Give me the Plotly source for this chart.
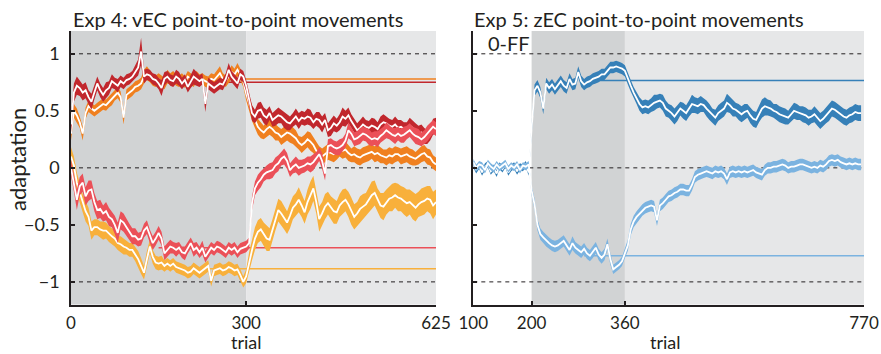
import numpy as np
import plotly.graph_objects as go

# ---------------- Exp 4 (vEC), trials 0..625 in steps of 5 ----------------
exp4_trials = list(range(0, 630, 5))

dr_mean = [0.38, 0.66, 0.72, 0.70, 0.66, 0.68, 0.62, 0.58, 0.66, 0.74,
           0.68, 0.64, 0.68, 0.70, 0.76, 0.74, 0.72, 0.76, 0.74, 0.77,
           0.78, 0.80, 0.84, 0.88, 1.02, 0.80, 0.82, 0.81, 0.78, 0.77,
           0.74, 0.70, 0.78, 0.80, 0.77, 0.76, 0.80, 0.78, 0.74, 0.77,
           0.71, 0.76, 0.80, 0.78, 0.76, 0.78, 0.56, 0.74, 0.72, 0.70,
           0.72, 0.74, 0.73, 0.78, 0.86, 0.80, 0.77, 0.74, 0.82, 0.80,
           0.72, 0.60, 0.48, 0.45, 0.50, 0.51, 0.46, 0.44, 0.48, 0.42,
           0.44, 0.46, 0.45, 0.42, 0.40, 0.39, 0.42, 0.45, 0.41, 0.44,
           0.43, 0.45, 0.44, 0.40, 0.43, 0.42, 0.38, 0.42, 0.33, 0.35,
           0.39, 0.37, 0.40, 0.45, 0.43, 0.46, 0.41, 0.37, 0.33, 0.35,
           0.38, 0.36, 0.35, 0.37, 0.36, 0.34, 0.38, 0.40, 0.39, 0.37,
           0.36, 0.38, 0.35, 0.36, 0.34, 0.33, 0.37, 0.35, 0.33, 0.30,
           0.31, 0.28, 0.27, 0.30, 0.36, 0.37]
dr_se = [0.07, 0.08, 0.08, 0.07, 0.07, 0.07, 0.06, 0.07, 0.06, 0.06,
         0.06, 0.06, 0.07, 0.06, 0.06, 0.05, 0.06, 0.05, 0.05, 0.05,
         0.05, 0.05, 0.06, 0.07, 0.12, 0.06, 0.05, 0.05, 0.05, 0.05,
         0.05, 0.07, 0.06, 0.05, 0.05, 0.05, 0.06, 0.06, 0.05, 0.05,
         0.05, 0.06, 0.07, 0.06, 0.05, 0.05, 0.07, 0.05, 0.05, 0.05,
         0.05, 0.05, 0.05, 0.05, 0.06, 0.05, 0.05, 0.05, 0.05, 0.05,
         0.05, 0.06, 0.07, 0.06, 0.07, 0.07, 0.07, 0.07, 0.06, 0.06,
         0.07, 0.07, 0.06, 0.07, 0.07, 0.06, 0.06, 0.07, 0.07, 0.06,
         0.06, 0.07, 0.07, 0.06, 0.06, 0.07, 0.07, 0.06, 0.06, 0.07,
         0.07, 0.06, 0.07, 0.08, 0.07, 0.07, 0.06, 0.06, 0.06, 0.07,
         0.07, 0.06, 0.06, 0.07, 0.07, 0.06, 0.07, 0.07, 0.06, 0.06,
         0.06, 0.07, 0.07, 0.06, 0.06, 0.07, 0.07, 0.06, 0.06, 0.07,
         0.07, 0.07, 0.06, 0.06, 0.07, 0.07]

or_mean = [0.30, 0.50, 0.46, 0.40, 0.30, 0.48, 0.54, 0.52, 0.50, 0.52,
           0.54, 0.56, 0.55, 0.58, 0.60, 0.64, 0.66, 0.62, 0.44, 0.64,
           0.66, 0.68, 0.71, 0.72, 0.74, 0.80, 0.83, 0.80, 0.77, 0.76,
           0.78, 0.76, 0.74, 0.80, 0.78, 0.80, 0.77, 0.76, 0.78, 0.75,
           0.80, 0.78, 0.76, 0.80, 0.77, 0.78, 0.76, 0.75, 0.78, 0.77,
           0.80, 0.83, 0.78, 0.76, 0.80, 0.84, 0.82, 0.86, 0.82, 0.76,
           0.65, 0.56, 0.48, 0.42, 0.36, 0.33, 0.31, 0.34, 0.36, 0.34,
           0.31, 0.30, 0.27, 0.29, 0.31, 0.30, 0.28, 0.26, 0.22, 0.20,
           0.22, 0.25, 0.23, 0.20, 0.15, 0.13, 0.10, 0.12, 0.14, 0.13,
           0.12, 0.14, 0.16, 0.15, 0.16, 0.13, 0.11, 0.12, 0.10, 0.09,
           0.11, 0.12, 0.13, 0.14, 0.12, 0.13, 0.11, 0.10, 0.09, 0.11,
           0.10, 0.12, 0.12, 0.10, 0.11, 0.12, 0.10, 0.09, 0.08, 0.10,
           0.12, 0.13, 0.10, 0.09, 0.05, 0.03]
or_se = [0.06, 0.06, 0.06, 0.05, 0.06, 0.05, 0.05, 0.05, 0.05, 0.05,
         0.05, 0.05, 0.05, 0.05, 0.05, 0.05, 0.05, 0.05, 0.06, 0.05,
         0.05, 0.05, 0.05, 0.05, 0.05, 0.06, 0.06, 0.05, 0.05, 0.05,
         0.05, 0.05, 0.05, 0.06, 0.05, 0.05, 0.05, 0.05, 0.05, 0.05,
         0.05, 0.05, 0.05, 0.05, 0.05, 0.05, 0.05, 0.05, 0.05, 0.05,
         0.05, 0.06, 0.05, 0.05, 0.05, 0.06, 0.05, 0.06, 0.05, 0.05,
         0.06, 0.06, 0.07, 0.07, 0.07, 0.07, 0.06, 0.07, 0.07, 0.07,
         0.07, 0.06, 0.07, 0.07, 0.07, 0.08, 0.07, 0.07, 0.06, 0.07,
         0.07, 0.07, 0.08, 0.07, 0.07, 0.06, 0.07, 0.07, 0.07, 0.07,
         0.07, 0.07, 0.06, 0.07, 0.07, 0.07, 0.06, 0.07, 0.07, 0.07,
         0.07, 0.07, 0.07, 0.06, 0.07, 0.07, 0.07, 0.06, 0.07, 0.07,
         0.07, 0.07, 0.06, 0.07, 0.07, 0.07, 0.07, 0.07, 0.06, 0.07,
         0.07, 0.07, 0.07, 0.07, 0.06, 0.06]

sa_mean = [0.00, -0.13, -0.28, -0.16, -0.13, -0.25, -0.20, -0.19, -0.30, -0.37,
           -0.36, -0.40, -0.38, -0.43, -0.45, -0.50, -0.57, -0.46, -0.48, -0.52,
           -0.56, -0.60, -0.60, -0.63, -0.62, -0.55, -0.52, -0.60, -0.66, -0.62,
           -0.57, -0.62, -0.75, -0.72, -0.69, -0.70, -0.72, -0.70, -0.74, -0.75,
           -0.70, -0.66, -0.72, -0.70, -0.74, -0.70, -0.78, -0.74, -0.70, -0.72,
           -0.69, -0.70, -0.72, -0.74, -0.70, -0.72, -0.70, -0.74, -0.71, -0.70,
           -0.69, -0.66, -0.31, -0.18, -0.13, -0.10, -0.06, -0.04, -0.03, -0.02,
           0.02, 0.04, 0.08, 0.10, 0.06, -0.02, 0.01, 0.03, 0.00, 0.01,
           0.02, 0.04, 0.03, 0.05, 0.08, 0.12, 0.06, -0.05, 0.19, 0.20,
           0.18, 0.17, 0.18, 0.20, 0.24, 0.33, 0.30, 0.25, 0.26, 0.28,
           0.30, 0.29, 0.27, 0.25, 0.26, 0.25, 0.28, 0.30, 0.33, 0.31,
           0.29, 0.28, 0.30, 0.28, 0.29, 0.31, 0.33, 0.30, 0.28, 0.27,
           0.25, 0.27, 0.30, 0.33, 0.36, 0.34]
sa_se = [0.07, 0.08, 0.09, 0.08, 0.08, 0.08, 0.09, 0.08, 0.08, 0.08,
         0.08, 0.07, 0.08, 0.08, 0.07, 0.08, 0.09, 0.08, 0.08, 0.07,
         0.07, 0.07, 0.07, 0.06, 0.06, 0.06, 0.06, 0.06, 0.06, 0.06,
         0.06, 0.06, 0.06, 0.06, 0.06, 0.05, 0.06, 0.05, 0.05, 0.06,
         0.05, 0.05, 0.06, 0.05, 0.05, 0.06, 0.05, 0.05, 0.05, 0.05,
         0.05, 0.05, 0.05, 0.05, 0.05, 0.05, 0.05, 0.05, 0.05, 0.05,
         0.05, 0.05, 0.06, 0.06, 0.07, 0.07, 0.06, 0.06, 0.07, 0.07,
         0.07, 0.07, 0.06, 0.07, 0.07, 0.06, 0.06, 0.07, 0.07, 0.06,
         0.06, 0.06, 0.07, 0.07, 0.06, 0.06, 0.07, 0.06, 0.06, 0.06,
         0.06, 0.06, 0.07, 0.06, 0.06, 0.07, 0.06, 0.06, 0.06, 0.07,
         0.06, 0.06, 0.07, 0.06, 0.06, 0.07, 0.06, 0.06, 0.07, 0.06,
         0.06, 0.07, 0.06, 0.06, 0.07, 0.06, 0.06, 0.06, 0.07, 0.07,
         0.06, 0.06, 0.07, 0.07, 0.06, 0.06]

ye_mean = [0.10, 0.02, -0.13, -0.22, -0.31, -0.38, -0.43, -0.55, -0.52, -0.52,
           -0.54, -0.55, -0.55, -0.58, -0.60, -0.62, -0.66, -0.67, -0.69, -0.70,
           -0.72, -0.72, -0.76, -0.80, -0.86, -0.92, -0.80, -0.69, -0.78, -0.83,
           -0.84, -0.83, -0.86, -0.84, -0.86, -0.84, -0.87, -0.88, -0.89, -0.90,
           -0.92, -0.91, -0.88, -0.90, -0.92, -0.90, -0.88, -0.86, -0.99, -0.90,
           -0.89, -0.88, -0.90, -0.89, -0.87, -0.88, -0.90, -0.89, -0.94, -1.00,
           -0.95, -0.82, -0.72, -0.62, -0.56, -0.54, -0.58, -0.62, -0.63, -0.55,
           -0.45, -0.37, -0.40, -0.44, -0.48, -0.42, -0.35, -0.32, -0.28, -0.33,
           -0.39, -0.30, -0.24, -0.18, -0.30, -0.45, -0.40, -0.34, -0.31, -0.35,
           -0.38, -0.39, -0.33, -0.30, -0.28, -0.32, -0.38, -0.43, -0.40, -0.36,
           -0.34, -0.32, -0.28, -0.24, -0.22, -0.28, -0.33, -0.34, -0.30, -0.27,
           -0.26, -0.24, -0.26, -0.27, -0.29, -0.31, -0.30, -0.33, -0.35, -0.32,
           -0.30, -0.29, -0.27, -0.28, -0.33, -0.30]
ye_se = [0.08, 0.08, 0.09, 0.08, 0.08, 0.09, 0.08, 0.08, 0.07, 0.07,
         0.07, 0.08, 0.07, 0.07, 0.07, 0.07, 0.06, 0.07, 0.07, 0.06,
         0.06, 0.06, 0.06, 0.07, 0.07, 0.06, 0.07, 0.06, 0.06, 0.06,
         0.06, 0.06, 0.05, 0.05, 0.05, 0.05, 0.05, 0.05, 0.05, 0.05,
         0.05, 0.05, 0.05, 0.05, 0.05, 0.05, 0.05, 0.05, 0.05, 0.05,
         0.05, 0.05, 0.05, 0.05, 0.05, 0.05, 0.05, 0.05, 0.05, 0.05,
         0.06, 0.08, 0.09, 0.10, 0.10, 0.10, 0.10, 0.11, 0.10, 0.10,
         0.10, 0.10, 0.11, 0.10, 0.10, 0.11, 0.10, 0.10, 0.11, 0.10,
         0.10, 0.11, 0.12, 0.11, 0.10, 0.11, 0.10, 0.11, 0.10, 0.10,
         0.11, 0.10, 0.10, 0.11, 0.10, 0.11, 0.12, 0.11, 0.10, 0.11,
         0.11, 0.10, 0.11, 0.12, 0.11, 0.10, 0.11, 0.12, 0.11, 0.11,
         0.12, 0.11, 0.12, 0.11, 0.12, 0.12, 0.11, 0.12, 0.12, 0.11,
         0.12, 0.12, 0.11, 0.12, 0.12, 0.11]

# steady-state reference levels of Exp 4 (value, first trial drawn)
exp4_ref = {"dr": (0.75, 150), "or": (0.78, 150), "sa": (-0.70, 150), "ye": (-0.885, 150)}

# ---------------- Exp 5 (zEC), trials 100..765 in steps of 5 ----------------
exp5_trials = list(range(100, 770, 5))

db_mean = [0.03, -0.02, 0.02, -0.04, 0.01, 0.03, -0.03, 0.00, -0.05, 0.02,
           -0.01, 0.03, -0.04, 0.00, 0.02, -0.03, 0.01, 0.00, 0.03, -0.04,
           0.35, 0.68, 0.72, 0.66, 0.52, 0.74, 0.70, 0.73, 0.69, 0.72,
           0.76, 0.72, 0.70, 0.78, 0.73, 0.74, 0.84, 0.76, 0.73, 0.75,
           0.76, 0.78, 0.79, 0.80, 0.82, 0.82, 0.85, 0.88, 0.88, 0.89,
           0.88, 0.87, 0.85, 0.78, 0.72, 0.66, 0.61, 0.56, 0.53, 0.54,
           0.53, 0.55, 0.57, 0.58, 0.59, 0.57, 0.52, 0.50, 0.48, 0.45,
           0.48, 0.52, 0.50, 0.48, 0.52, 0.56, 0.55, 0.54, 0.56, 0.55,
           0.52, 0.49, 0.46, 0.44, 0.48, 0.50, 0.52, 0.57, 0.55, 0.52,
           0.51, 0.49, 0.47, 0.49, 0.50, 0.46, 0.43, 0.42, 0.47, 0.52,
           0.54, 0.53, 0.52, 0.50, 0.49, 0.47, 0.46, 0.45, 0.44, 0.47,
           0.50, 0.49, 0.48, 0.47, 0.46, 0.44, 0.45, 0.47, 0.44, 0.41,
           0.43, 0.46, 0.48, 0.52, 0.51, 0.49, 0.47, 0.45, 0.44, 0.46,
           0.47, 0.49, 0.48, 0.48]
db_se = [0.03, 0.03, 0.03, 0.03, 0.03, 0.03, 0.03, 0.03, 0.03, 0.03,
         0.03, 0.03, 0.03, 0.03, 0.03, 0.03, 0.03, 0.03, 0.03, 0.03,
         0.05, 0.05, 0.05, 0.05, 0.05, 0.05, 0.05, 0.05, 0.05, 0.05,
         0.05, 0.05, 0.05, 0.05, 0.05, 0.05, 0.05, 0.05, 0.05, 0.05,
         0.05, 0.05, 0.05, 0.05, 0.05, 0.05, 0.05, 0.05, 0.05, 0.05,
         0.05, 0.05, 0.05, 0.05, 0.05, 0.05, 0.05, 0.06, 0.06, 0.06,
         0.06, 0.06, 0.07, 0.06, 0.06, 0.07, 0.07, 0.06, 0.07, 0.07,
         0.07, 0.06, 0.07, 0.07, 0.07, 0.08, 0.07, 0.07, 0.07, 0.06,
         0.07, 0.07, 0.06, 0.07, 0.07, 0.07, 0.07, 0.08, 0.07, 0.07,
         0.06, 0.07, 0.07, 0.07, 0.06, 0.07, 0.07, 0.07, 0.07, 0.08,
         0.08, 0.07, 0.07, 0.06, 0.07, 0.07, 0.07, 0.07, 0.06, 0.07,
         0.07, 0.07, 0.06, 0.07, 0.07, 0.07, 0.06, 0.07, 0.07, 0.07,
         0.07, 0.07, 0.07, 0.07, 0.07, 0.07, 0.07, 0.07, 0.07, 0.07,
         0.07, 0.07, 0.07, 0.07]

lb_mean = [0.05, 0.00, 0.03, 0.02, -0.02, 0.04, 0.01, -0.01, 0.03, 0.00,
           0.02, 0.04, -0.01, 0.02, 0.00, 0.03, -0.02, 0.02, 0.01, 0.03,
           -0.20, -0.32, -0.50, -0.58, -0.61, -0.64, -0.66, -0.68, -0.69, -0.68,
           -0.66, -0.64, -0.68, -0.72, -0.66, -0.70, -0.72, -0.74, -0.71, -0.75,
           -0.77, -0.74, -0.70, -0.76, -0.79, -0.76, -0.67, -0.80, -0.89, -0.87,
           -0.85, -0.82, -0.75, -0.68, -0.54, -0.47, -0.43, -0.40, -0.37, -0.35,
           -0.34, -0.33, -0.34, -0.46, -0.33, -0.31, -0.28, -0.25, -0.24, -0.22,
           -0.21, -0.19, -0.19, -0.20, -0.20, -0.15, -0.08, -0.06, -0.05, -0.04,
           -0.03, -0.04, -0.05, -0.03, -0.04, -0.03, -0.05, -0.10, -0.04, -0.03,
           -0.04, -0.03, -0.04, -0.03, -0.04, -0.03, -0.02, -0.04, -0.05, -0.06,
           -0.02, 0.00, 0.00, 0.01, 0.01, 0.02, 0.03, 0.02, 0.00, 0.01,
           0.01, 0.02, 0.03, 0.03, 0.02, 0.01, 0.00, 0.01, 0.00, 0.02,
           0.01, 0.03, 0.06, 0.07, 0.06, 0.07, 0.05, 0.04, 0.03, 0.04,
           0.03, 0.04, 0.03, 0.03]
lb_se = [0.03, 0.03, 0.03, 0.03, 0.03, 0.03, 0.03, 0.03, 0.03, 0.03,
         0.03, 0.03, 0.03, 0.03, 0.03, 0.03, 0.03, 0.03, 0.03, 0.03,
         0.04, 0.05, 0.05, 0.05, 0.05, 0.05, 0.05, 0.05, 0.05, 0.05,
         0.05, 0.05, 0.05, 0.05, 0.06, 0.05, 0.05, 0.05, 0.05, 0.05,
         0.05, 0.05, 0.05, 0.05, 0.05, 0.05, 0.05, 0.05, 0.04, 0.04,
         0.04, 0.04, 0.04, 0.05, 0.05, 0.05, 0.05, 0.05, 0.05, 0.05,
         0.05, 0.05, 0.05, 0.05, 0.05, 0.05, 0.05, 0.05, 0.05, 0.05,
         0.05, 0.05, 0.05, 0.05, 0.05, 0.05, 0.05, 0.05, 0.05, 0.05,
         0.05, 0.05, 0.05, 0.05, 0.05, 0.05, 0.05, 0.05, 0.05, 0.05,
         0.05, 0.05, 0.05, 0.05, 0.05, 0.05, 0.05, 0.05, 0.05, 0.05,
         0.05, 0.05, 0.05, 0.05, 0.05, 0.05, 0.05, 0.05, 0.05, 0.05,
         0.05, 0.05, 0.05, 0.05, 0.05, 0.05, 0.05, 0.05, 0.05, 0.05,
         0.05, 0.05, 0.05, 0.05, 0.05, 0.05, 0.05, 0.05, 0.05, 0.05,
         0.05, 0.05, 0.05, 0.05]

exp5_ref = {"db": (0.765, 290), "lb": (-0.77, 290)}

for arr in (dr_mean, dr_se, or_mean, or_se, sa_mean, sa_se, ye_mean, ye_se):
    assert len(arr) == len(exp4_trials), len(arr)
for arr in (db_mean, db_se, lb_mean, lb_se):
    assert len(arr) == len(exp5_trials), len(arr)

colors = {"dr": "#c1272d", "or": "#f0801f", "sa": "#eb5058", "ye": "#f8b03b",
          "db": "#3680b8", "lb": "#7bb3e0"}

FONT = "Lato"
INK = "#231f20"
W, H = 881, 354

fig = go.Figure()


def add_series(x, mean, se, color, xa, ya):
    x = np.asarray(x, float)
    m = np.asarray(mean, float)
    s = np.asarray(se, float)
    up, lo = m + s, m - s
    fig.add_trace(go.Scatter(x=np.concatenate([x, x[::-1]]), y=np.concatenate([up, lo[::-1]]),
                             fill="toself", fillcolor=color, line=dict(width=0),
                             mode="lines", hoverinfo="skip", showlegend=False,
                             xaxis=xa, yaxis=ya))
    fig.add_trace(go.Scatter(x=x, y=m, mode="lines", line=dict(color="white", width=1.8),
                             showlegend=False, xaxis=xa, yaxis=ya))


def add_ref(level, start, end, color, xa, ya):
    fig.add_trace(go.Scatter(x=[start, end], y=[level, level], mode="lines",
                             line=dict(color=color, width=1.5), showlegend=False,
                             hoverinfo="skip", xaxis=xa, yaxis=ya))


# reference lines first (under the bands)
for k in ("dr", "or", "sa", "ye"):
    add_ref(exp4_ref[k][0], exp4_ref[k][1], 625, colors[k], "x", "y")
for k in ("db", "lb"):
    add_ref(exp5_ref[k][0], exp5_ref[k][1], 770, colors[k], "x2", "y2")

add_series(exp4_trials, ye_mean, ye_se, colors["ye"], "x", "y")
add_series(exp4_trials, or_mean, or_se, colors["or"], "x", "y")
add_series(exp4_trials, dr_mean, dr_se, colors["dr"], "x", "y")
add_series(exp4_trials, sa_mean, sa_se, colors["sa"], "x", "y")
add_series(exp5_trials, db_mean, db_se, colors["db"], "x2", "y2")
add_series(exp5_trials, lb_mean, lb_se, colors["lb"], "x2", "y2")

DARK, LIGHT = "#d1d3d4", "#e6e7e8"
shapes = []
for xr, (x0, x1), c in (("x", (0, 300), DARK), ("x", (300, 625), LIGHT),
                         ("x2", (200, 360), DARK), ("x2", (360, 770), LIGHT)):
    yr = "y" if xr == "x" else "y2"
    shapes.append(dict(type="rect", xref=xr, yref=yr, x0=x0, x1=x1, y0=-1.2, y1=1.2,
                       fillcolor=c, line=dict(width=0), layer="below"))
for xr, (x0, x1) in (("x", (0, 625)), ("x2", (100, 770))):
    yr = "y" if xr == "x" else "y2"
    for lv in (-1, 0, 1):
        shapes.append(dict(type="line", xref=xr, yref=yr, x0=x0, x1=x1, y0=lv, y1=lv,
                           line=dict(color=INK, width=1, dash="4px,4px"), layer="below"))

px = lambda v: v / W
py = lambda v: 1 - v / H

axis_common = dict(showline=True, linecolor=INK, linewidth=1.5, ticks="inside", ticklen=4,
                   tickcolor=INK, tickwidth=1.5, showgrid=False, zeroline=False,
                   fixedrange=True, automargin=False)
TICKFONT_Y = dict(family=FONT, size=18, color=INK)
TICKFONT_X = dict(family=FONT, size=17, color=INK)

fig.update_layout(
    width=W, height=H, autosize=False, margin=dict(l=0, r=0, t=0, b=0, pad=0, autoexpand=False),
    paper_bgcolor="white", plot_bgcolor="white", showlegend=False,
    shapes=shapes,
    xaxis=dict(domain=[px(71), px(436)], range=[0, 625], tickvals=[0, 300, 625],
               anchor="y", ticklabelstandoff=2, tickfont=TICKFONT_X, **axis_common),
    yaxis=dict(domain=[py(304.7), py(31)], range=[-1.2, 1.2],
               tickvals=[-1, -0.5, 0, 0.5, 1], ticktext=["\u22121", "\u22120.5", "0", "0.5", "1"],
               anchor="x", ticklabelstandoff=6, tickfont=TICKFONT_Y, **axis_common),
    xaxis2=dict(domain=[px(473.3), px(864)], range=[100, 770], tickvals=[100, 200, 360, 770],
                anchor="y2", ticklabelstandoff=2, tickfont=TICKFONT_X, **axis_common),
    yaxis2=dict(domain=[py(304.7), py(31)], range=[-1.2, 1.2], tickvals=[-1, -0.5, 0, 0.5, 1],
                showticklabels=False, anchor="x2", tickfont=TICKFONT_Y, **axis_common),
    annotations=[
        dict(text="Exp 4: vEC point-to-point movements", x=px(71), y=py(19), xref="paper",
             yref="paper", xanchor="left", yanchor="middle", showarrow=False,
             font=dict(family=FONT, size=20, color=INK)),
        dict(text="Exp 5: zEC point-to-point movements", x=px(471.5), y=py(19), xref="paper",
             yref="paper", xanchor="left", yanchor="middle", showarrow=False,
             font=dict(family=FONT, size=20, color=INK)),
        dict(text="0-FF", x=px(486), y=py(43), xref="paper", yref="paper", xanchor="left",
             yanchor="middle", showarrow=False, font=dict(family=FONT, size=20, color=INK)),
        dict(text="adaptation", x=px(17), y=py(160), xref="paper", yref="paper",
             xanchor="center", yanchor="middle", textangle=-90, showarrow=False,
             font=dict(family=FONT, size=22, color=INK)),
        dict(text="trial", x=px(246), y=py(354), xref="paper", yref="paper",
             xanchor="center", yanchor="bottom", showarrow=False, borderpad=0,
             font=dict(family=FONT, size=18, color=INK)),
        dict(text="trial", x=px(665), y=py(354), xref="paper", yref="paper",
             xanchor="center", yanchor="bottom", showarrow=False, borderpad=0,
             font=dict(family=FONT, size=18, color=INK)),
    ],
)

fig.write_html(
    "out.html",
    config={"responsive": False, "displayModeBar": False},
    post_script="document.body.style.margin='0px';"
                "document.documentElement.style.overflow='hidden';"
                "document.body.style.overflow='hidden';",
)
